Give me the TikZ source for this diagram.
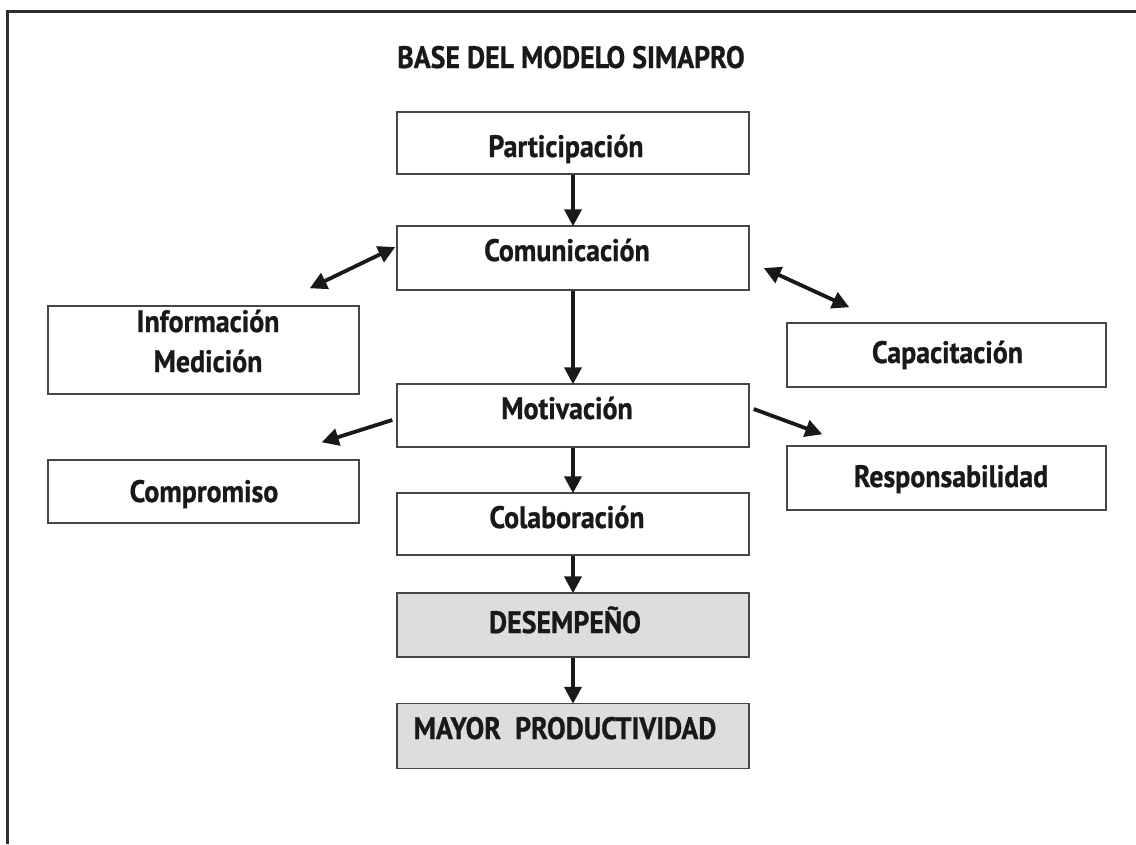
\documentclass[tikz,border=0pt]{standalone}
\usepackage{fontspec}
\setmainfont{PT Sans}[FakeStretch=0.9, BoldFeatures={FakeBold=0.8}]
\usetikzlibrary{arrows.meta}
\definecolor{framec}{RGB}{45,45,45}
\definecolor{boxc}{RGB}{70,70,70}
\definecolor{fillg}{RGB}{220,221,223}
\definecolor{arrc}{RGB}{25,25,25}
\tikzset{
  box/.style={draw=boxc, line width=1.4pt, rectangle, inner sep=0pt},
  lbl/.style={inner sep=0pt, anchor=base, text=arrc, font=\bfseries\fontsize{31}{36}\selectfont},
  arr/.style={draw=arrc, line width=3.8pt, -{Triangle[length=17pt,width=17pt]}},
  darr/.style={draw=arrc, line width=3.8pt, {Triangle[length=17pt,width=17pt]}-{Triangle[length=17pt,width=17pt]}},
}
\begin{document}
\begin{tikzpicture}[x=1pt,y=-1pt]
\useasboundingbox (0,0) rectangle (1136,844);
% frame
\draw[framec, line width=3pt] (7.3,844) -- (7.3,11.5) -- (1136,11.5);
% title
\node[lbl] (title) at (571,68) {BASE DEL MODELO SIMAPRO};
% boxes
\node[box, minimum width=352pt, minimum height=62pt] (part) at (573,143) {};
\node[box, minimum width=352pt, minimum height=64pt] (com) at (573,258) {};
\node[box, minimum width=311pt, minimum height=88pt] (info) at (203.5,350) {};
\node[box, minimum width=319pt, minimum height=64pt] (cap) at (946.5,355) {};
\node[box, minimum width=352pt, minimum height=63pt] (mot) at (573,415.5) {};
\node[box, minimum width=311pt, minimum height=63pt] (comp) at (203.5,491.5) {};
\node[box, minimum width=319pt, minimum height=64pt] (resp) at (946.5,478) {};
\node[box, minimum width=352pt, minimum height=62pt] (col) at (573,524) {};
\node[box, fill=fillg, minimum width=352pt, minimum height=64pt] (des) at (573,625) {};
\node[box, fill=fillg, minimum width=352pt, minimum height=65pt] (may) at (573,736) {};
% texts
\node[lbl] (tpart) at (566,157) {Participación};
\node[lbl] (tcom) at (567,261) {Comunicación};
\node[lbl] (tinfo1) at (208,332) {Información};
\node[lbl] (tinfo2) at (208,372) {Medición};
\node[lbl] (tcap) at (947.5,363) {Capacitación};
\node[lbl] (tmot) at (567,419) {Motivación};
\node[lbl] (tcomp) at (204,502) {Compromiso};
\node[lbl] (tresp) at (951,487) {Responsabilidad};
\node[lbl] (tcol) at (567,528) {Colaboración};
\node[lbl] (tdes) at (565,633) {DESEMPEÑO};
\node[lbl] (tmay) at (565,739) {MAYOR\ \ PRODUCTIVIDAD};
% arrows
\draw[arr] (part.south) -- ([yshift=-1]com.north);
\draw[arr] (com.south) -- ([yshift=-1]mot.north);
\draw[arr] (mot.south) -- ([yshift=-1]col.north);
\draw[arr] (col.south) -- ([yshift=-1]des.north);
\draw[arr] (des.south) -- ([yshift=-1]may.north);
\draw[darr] ([shift={(-1,-11)}]com.west) -- ([shift={(-50,-17)}]info.north east);
\draw[darr] ([shift={(14,10)}]com.east) -- ([shift={(63,-15)}]cap.north west);
\draw[arr] ([shift={(-4,4.5)}]mot.west) -- ([shift={(-38,-17)}]comp.north east);
\draw[arr] ([shift={(4,-6.5)}]mot.east) -- ([shift={(36,-11)}]resp.north west);
\end{tikzpicture}
\end{document}
